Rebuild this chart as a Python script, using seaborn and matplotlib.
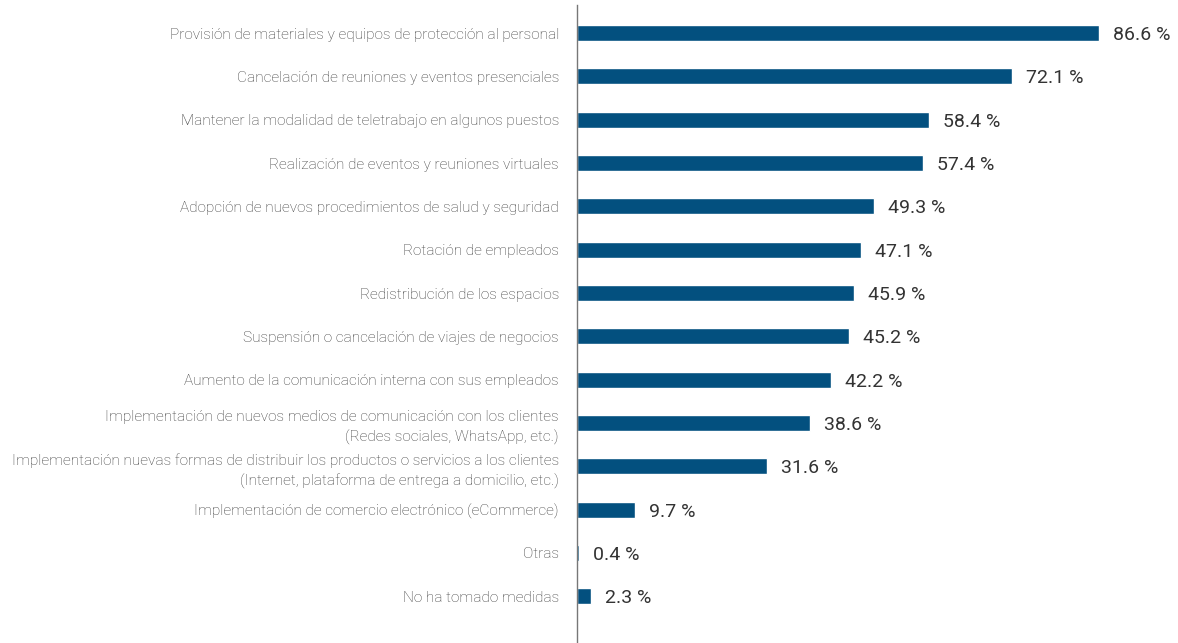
import pandas as pd
import seaborn as sns
import matplotlib.pyplot as plt

categories = [
    "Provisión de materiales y equipos de protección al personal",
    "Cancelación de reuniones y eventos presenciales",
    "Mantener la modalidad de teletrabajo en algunos puestos",
    "Realización de eventos y reuniones virtuales",
    "Adopción de nuevos procedimientos de salud y seguridad",
    "Rotación de empleados",
    "Redistribución de los espacios",
    "Suspensión o cancelación de viajes de negocios",
    "Aumento de la comunicación interna con sus empleados",
    "Implementación de nuevos medios de comunicación con los clientes\n(Redes sociales, WhatsApp, etc.)",
    "Implementación nuevas formas de distribuir los productos o servicios a los clientes\n(Internet, plataforma de entrega a domicilio, etc.)",
    "Implementación de comercio electrónico (eCommerce)",
    "Otras",
    "No ha tomado medidas",
]
values = [86.6, 72.1, 58.4, 57.4, 49.3, 47.1, 45.9, 45.2, 42.2, 38.6, 31.6, 9.7, 0.4, 2.3]

df = pd.DataFrame({"medida": categories, "pct": values})

sns.set_style("white")
plt.rcParams["font.family"] = ["Roboto", "DejaVu Sans"]

fig = plt.figure(figsize=(11.78, 6.43), dpi=100)
ax = fig.add_axes([577 / 1178, 0, 601 / 1178, 1 - 5 / 643])

sns.barplot(data=df, x="pct", y="medida", color="#03507F", saturation=1,
            width=0.37, ax=ax)

ax.set_xlim(0, 99.7)
ax.set_ylim(14.08, -0.65)
ax.set_xlabel("")
ax.set_ylabel("")
ax.set_xticks([])
ax.tick_params(axis="y", length=0, pad=13)
for lab in ax.get_yticklabels():
    lab.set_fontsize(11.1)
    lab.set_color("#3a3a3a")
    lab.set_fontweight("light")
    lab.set_linespacing(1.5)

for s in ["top", "right", "bottom"]:
    ax.spines[s].set_visible(False)
ax.spines["left"].set_color("#777777")
ax.spines["left"].set_linewidth(1.0)

for i, v in enumerate(values):
    ax.annotate(f"{v:.1f} %", (v, i), xytext=(10, 0), textcoords="offset points",
                va="center_baseline", ha="left", fontsize=14, color="#333333")

fig.savefig("out.png", dpi=100)
